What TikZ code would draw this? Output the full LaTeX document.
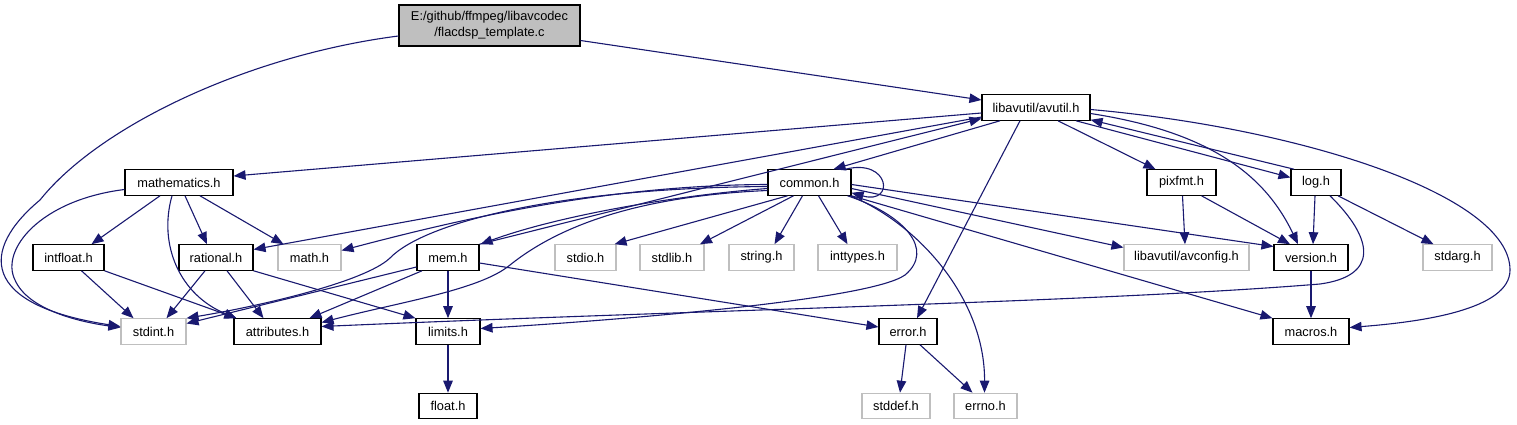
\documentclass[tikz,border=0pt]{standalone}
\usepackage{fontspec}
\setmainfont{Liberation Sans}
\usetikzlibrary{arrows.meta}
\definecolor{edgeblue}{HTML}{191970}
\definecolor{ghost}{HTML}{BFBFBF}
\begin{document}
\begin{tikzpicture}[x=1pt,y=-1pt,
  box/.style={draw=black,line width=1.1pt,fill=white,inner sep=0pt,minimum height=25.5pt,font=\fontsize{12.8}{16}\selectfont},
  sysbox/.style={box,draw=ghost},
  rootbox/.style={box,fill=ghost,align=center,minimum height=41pt},
  edge/.style={draw=edgeblue,line width=1.1pt,-{Triangle[length=12pt,width=9.5pt]}},
]
\useasboundingbox[fill=white] (0,0) rectangle (1517,425);
% nodes
\node[rootbox,minimum width=181pt] (root) at (489.5,25.5) {E:/github/ffmpeg/libavcodec\\/flacdsp\_template.c};
\node[box,minimum width=108pt] (avutil) at (1036,107.5) {libavutil/avutil.h};
\node[box,minimum width=108pt] (mathematics) at (179,182.5) {mathematics.h};
\node[box,minimum width=83pt] (common) at (809.5,182.5) {common.h};
\node[box,minimum width=69pt] (pixfmt) at (1181.5,182.5) {pixfmt.h};
\node[box,minimum width=50pt] (log) at (1316,182.5) {log.h};
\node[box,minimum width=71pt] (intfloat) at (68.5,257.5) {intfloat.h};
\node[box,minimum width=74pt] (rational) at (216,257.5) {rational.h};
\node[sysbox,minimum width=63pt] (math) at (309.5,257.5) {math.h};
\node[box,minimum width=62pt] (mem) at (448,257.5) {mem.h};
\node[sysbox,minimum width=61pt] (stdio) at (585.5,257.5) {stdio.h};
\node[sysbox,minimum width=64pt] (stdlib) at (672,257.5) {stdlib.h};
\node[sysbox,minimum width=65pt] (string) at (761.5,257.5) {string.h};
\node[sysbox,minimum width=79pt] (inttypes) at (857.5,257.5) {inttypes.h};
\node[sysbox,minimum width=125pt] (avconfig) at (1186.5,257.5) {libavutil/avconfig.h};
\node[box,minimum width=74pt] (version) at (1311,257.5) {version.h};
\node[sysbox,minimum width=69pt] (stdarg) at (1457.5,257.5) {stdarg.h};
\node[sysbox,minimum width=65pt] (stdint) at (153.5,331.5) {stdint.h};
\node[box,minimum width=87pt] (attributes) at (277.5,331.5) {attributes.h};
\node[box,minimum width=64pt] (limits) at (448,331.5) {limits.h};
\node[box,minimum width=58pt] (error) at (908,331.5) {error.h};
\node[box,minimum width=76pt] (macros) at (1311,331.5) {macros.h};
\node[box,minimum width=58pt] (float) at (448,406) {float.h};
\node[sysbox,minimum width=68pt] (stddef) at (896,406) {stddef.h};
\node[sysbox,minimum width=63pt] (errno) at (985.5,406) {errno.h};
% root edges
\draw[edge] ([yshift=-15pt]root.east) -- ([yshift=7.5pt]avutil.west);
\draw[edge] ([yshift=-10.5pt]root.west) .. controls (250,55) and (100,125) .. (40,200) .. controls (-20,250) and (-20,305) .. ([yshift=5pt]stdint.west);
% avutil edges
\draw[edge] ([yshift=-5.5pt]avutil.west) -- ([yshift=6.5pt]mathematics.east);
\draw[edge] ([yshift=-9.5pt]avutil.west) -- ([yshift=8pt]rational.east);
\draw[edge] ([xshift=-36pt]avutil.south) -- ([xshift=24pt]common.north);
\draw[edge] ([xshift=-16pt]avutil.south) -- ([xshift=9pt]error.north);
\draw[edge] ([xshift=22pt]avutil.south) -- ([xshift=-26pt]pixfmt.north);
\draw[edge] ([xshift=40pt]avutil.south) -- ([yshift=5pt]log.west);
\draw[edge] ([yshift=-6pt]avutil.east) .. controls (1210,132) and (1265,175) .. ([xshift=-13pt]version.north);
\draw[edge] ([yshift=-2pt]avutil.east) .. controls (1300,128) and (1510,195) .. (1510,270) .. controls (1510,310) and (1420,322) .. ([yshift=4pt]macros.east);
% back edges into avutil
\draw[edge] (mem.north east) -- ([yshift=-11pt]avutil.west);
\draw[edge] ([xshift=-22pt]log.north) -- ([yshift=1pt]avutil.south east);
% log edges
\draw[edge] ([xshift=-1pt]log.south) -- ([xshift=2pt]version.north);
\draw[edge] ([xshift=22pt]log.south) -- ([xshift=-24pt]stdarg.north);
\draw[edge] ([xshift=14pt]log.south) .. controls (1375,240) and (1378,276) .. (1320,284) .. controls (1100,302) and (700,310) .. ([yshift=5pt]attributes.east);
% pixfmt, version
\draw[edge] ([xshift=1pt]pixfmt.south) -- ([xshift=-1.5pt]avconfig.north);
\draw[edge] ([xshift=20pt]pixfmt.south) -- ([xshift=-21pt]version.north);
\draw[edge] (version.south) -- (macros.north);
% common edges
\draw[edge] ([yshift=-2pt]common.east) -- ([yshift=11pt]version.west);
\draw[edge] ([yshift=-6pt]common.east) -- ([yshift=10pt]avconfig.west);
\draw[edge] (common.south east) -- (macros.north west);
\draw[edge] ([xshift=-22pt]common.south) -- ([xshift=-2pt]stdio.north east);
\draw[edge] ([xshift=-16pt]common.south) -- ([xshift=28pt]stdlib.north);
\draw[edge] ([xshift=-7pt]common.south) -- ([xshift=13pt]string.north);
\draw[edge] ([xshift=9pt]common.south) -- ([xshift=-10pt]inttypes.north);
\draw[edge] ([yshift=-2pt]common.west) .. controls (600,185) and (450,222) .. ([yshift=7pt]math.east);
\draw[edge] ([yshift=-4pt]common.west) .. controls (560,188) and (425,222) .. (390,258) .. controls (365,282) and (260,306) .. (stdint.north east);
\draw[edge] ([yshift=-6pt]common.west) .. controls (680,195) and (560,215) .. ([xshift=1pt]mem.north east);
\draw[edge] ([yshift=-8pt]common.west) .. controls (640,196) and (560,225) .. (510,265) .. controls (480,290) and (400,302) .. ([yshift=9pt]attributes.east);
\draw[edge] ([xshift=-4pt]common.south east) .. controls (905,215) and (935,250) .. (905,275) .. controls (870,300) and (620,320) .. ([yshift=3pt]limits.east);
\draw[edge] ([xshift=-1pt]common.south east) .. controls (920,225) and (985,300) .. ([xshift=-1pt]errno.north);
\draw[edge] ([xshift=-6pt]common.north east) .. controls (890,158) and (895,205) .. ([yshift=3pt]common.south east);
% mathematics edges
\draw[edge] ([xshift=-19pt]mathematics.south) -- ([xshift=23pt]intfloat.north);
\draw[edge] ([xshift=6pt]mathematics.south) -- ([xshift=-9pt]rational.north);
\draw[edge] ([xshift=21pt]mathematics.south) -- ([xshift=-26pt]math.north);
\draw[edge] ([xshift=-7pt]mathematics.south) .. controls (158,245) and (180,295) .. ([xshift=3pt]attributes.north west);
\draw[edge] ([yshift=-7pt]mathematics.west) .. controls (40,200) and (0,250) .. (15,280) .. controls (28,310) and (80,322) .. ([yshift=4pt]stdint.west);
% intfloat, rational
\draw[edge] ([xshift=13pt]intfloat.south) -- ([xshift=-20pt]stdint.north);
\draw[edge] (intfloat.south east) -- ([xshift=3pt]attributes.north west);
\draw[edge] ([xshift=-11pt]rational.south) -- ([xshift=13pt]stdint.north);
\draw[edge] ([xshift=11pt]rational.south) -- ([xshift=-14pt]attributes.north);
\draw[edge] (rational.south east) -- (limits.north west);
% mem edges
\draw[edge] ([yshift=-9.5pt]mem.west) -- ([yshift=8pt]stdint.east);
\draw[edge] ([xshift=-26pt]mem.south) -- ([xshift=32pt]attributes.north);
\draw[edge] (mem.south) -- (limits.north);
\draw[edge] ([yshift=-5.5pt]mem.east) -- ([yshift=4.5pt]error.west);
% error, limits
\draw[edge] ([xshift=-2pt]error.south) -- ([xshift=4pt]stddef.north);
\draw[edge] ([xshift=12pt]error.south) -- ([xshift=-13pt]errno.north);
\draw[edge] (limits.south) -- (float.north);
\end{tikzpicture}
\end{document}
